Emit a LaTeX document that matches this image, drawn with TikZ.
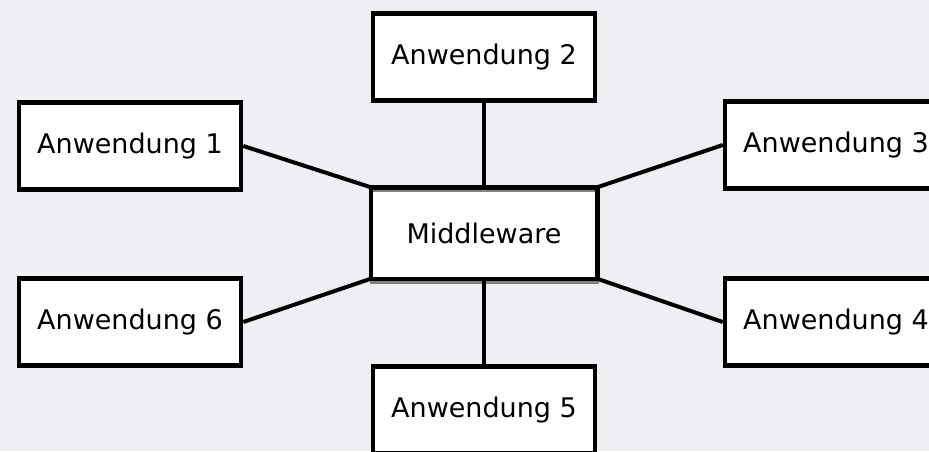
\documentclass[tikz,border=0pt]{standalone}
\usepackage{fontspec}
\setmainfont{DejaVu Sans}
\definecolor{bggray}{RGB}{239,238,243}
\definecolor{rimgray}{RGB}{128,128,128}
\begin{document}
\begin{tikzpicture}[x=1pt, y=1pt, font=\fontsize{27}{32}\selectfont,
  app/.style={draw, fill=white, line width=4.5pt, minimum width=222pt, minimum height=87pt, inner sep=0pt},
  link/.style={line width=4pt}]

\fill[bggray] (0,0) rectangle (929,451);
\useasboundingbox (0,0) rectangle (929,451);

\node[app, draw=none] (mw) at (484,218) {Middleware};
\draw[rimgray, line width=2.5pt] ([yshift=-3.5pt]mw.north west) rectangle ([yshift=-3.5pt]mw.south east);
\draw[line width=4.5pt] (mw.north west) rectangle (mw.south east);

\node[app] (a1) at (130,305) {Anwendung 1};
\node[app] (a2) at (484,394) {Anwendung 2};
\node[app] (a3) at (836,306) {Anwendung 3};
\node[app] (a4) at (836,129) {Anwendung 4};
\node[app] (a5) at (484,41) {Anwendung 5};
\node[app] (a6) at (130,129) {Anwendung 6};

\begin{scope}[link]
\draw (a1.east) -- (mw.north west);
\draw (a2.south) -- (mw.north);
\draw (a3.west) -- (mw.north east);
\draw (a4.west) -- (mw.south east);
\draw (a5.north) -- (mw.south);
\draw (a6.east) -- (mw.south west);
\end{scope}
\end{tikzpicture}
\end{document}
